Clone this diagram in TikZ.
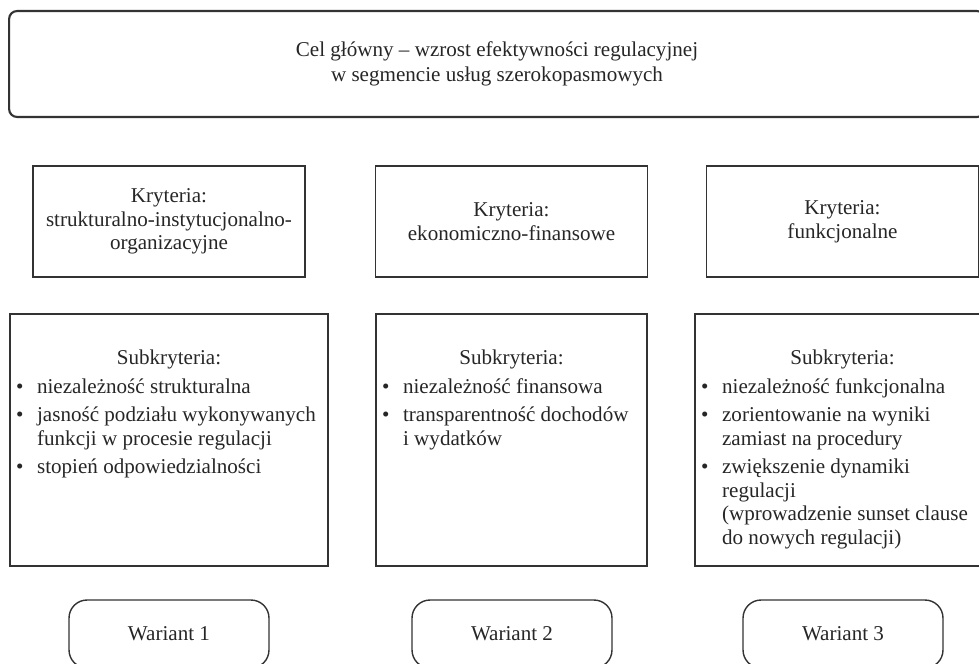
\documentclass[tikz,border=0pt]{standalone}
\usepackage{fontspec}
\setmainfont{Liberation Serif}
\usepackage{tikz}

\newcommand{\pozycja}[1]{\par\hangindent=1em\hangafter=1\noindent\makebox[1em][l]{\textbullet}#1}
\newcommand{\lista}[2]{\parbox[c][5.04cm][t]{#1}{\raggedright\setlength{\parskip}{2.8pt}%
    \vspace*{0.62cm}{\centering Subkryteria:\par}#2}}

\tikzset{
    ramka/.style={draw=black!80, line width=0.8pt, text=black!85},
    celbox/.style={ramka, line width=1.2pt, rounded corners=0.16cm,
                   minimum width=19.52cm, minimum height=2.12cm, align=center,
                   font=\fontsize{12}{14.2}\selectfont},
    krytbox/.style={ramka, minimum width=5.44cm, minimum height=2.22cm, align=center},
    subbox/.style={ramka, inner xsep=0.12cm, inner ysep=0pt},
    wariantbox/.style={ramka, rounded corners=0.36cm, minimum width=4cm, minimum height=1.36cm}
}

\begin{document}
\begin{tikzpicture}[x=0.02cm, y=-0.02cm, every node/.append style={font=\fontsize{12}{13.4}\selectfont}]
    \clip (0,0) rectangle (979,663);
    \useasboundingbox (0,0) rectangle (979,663);

    \node[celbox] (cel) at (497,64) {Cel główny – wzrost efektywności regulacyjnej\\w segmencie usług szerokopasmowych};

    \foreach \i/\x/\txt in {1/169/{Kryteria:\\strukturalno-instytucjonalno-\\organizacyjne},
            2/511.5/{Kryteria:\\ekonomiczno-finansowe},
            3/842.5/{Kryteria:\\funkcjonalne}} {
        \node[krytbox] (kryt\i) at (\x,221.5) {\txt};
    }

    \node[subbox] (sub1) at (169,440) {\lista{6.12cm}{%
        \pozycja{niezależność strukturalna}
        \pozycja{jasność podziału wykonywanych\newline funkcji w procesie regulacji}
        \pozycja{stopień odpowiedzialności}}};
    \node[subbox] (sub2) at (511.5,440) {\lista{5.18cm}{%
        \pozycja{niezależność finansowa}
        \pozycja{transparentność dochodów\newline i wydatków}}};
    \node[subbox] (sub3) at (842.5,440) {\lista{5.66cm}{%
        \pozycja{niezależność funkcjonalna}
        \pozycja{zorientowanie na wyniki\newline zamiast na procedury}
        \pozycja{zwiększenie dynamiki\newline regulacji\newline (wprowadzenie sunset clause\newline do nowych regulacji)}}};

    \foreach \i/\x in {1/169, 2/512, 3/843} {
        \node[wariantbox] (war\i) at (\x,634) {Wariant \i};
    }
\end{tikzpicture}
\end{document}
